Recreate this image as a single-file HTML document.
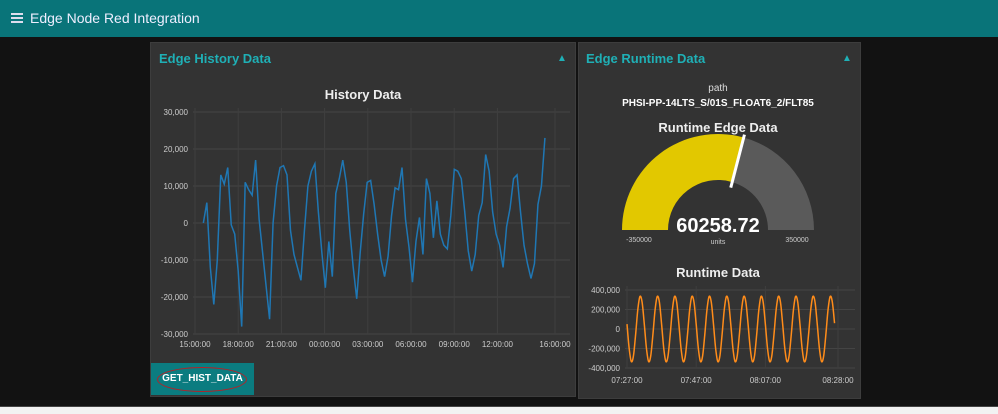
<!DOCTYPE html>
<html><head><meta charset="utf-8"><style>
body{margin:0;width:998px;height:414px;background:#121212;font-family:"Liberation Sans",sans-serif;position:relative;overflow:hidden}
.hdr{position:absolute;left:0;top:0;width:998px;height:37px;background:#097479;color:#eef;font-size:14px}
.panel{position:absolute;background:#333;border:1px solid #3d3d3d}
.ptitle{position:absolute;color:#1fb0b6;font-size:13px;font-weight:bold}
.caret{position:absolute;color:#1fb0b6;font-size:10px}
svg text{font-family:"Liberation Sans",sans-serif}
</style></head><body>
<div class="hdr">
 <div style="position:absolute;left:11px;top:13px;width:12px">
  <div style="height:2px;background:#dde;margin-bottom:2px"></div><div style="height:2px;background:#dde;margin-bottom:2px"></div><div style="height:2px;background:#dde"></div></div>
 <div style="position:absolute;left:30px;top:10px">Edge Node Red Integration</div>
</div>
<div class="panel" style="left:150px;top:42px;width:424px;height:353px"></div>
<div class="ptitle" style="left:159px;top:51px">Edge History Data</div>
<div class="caret" style="left:557px;top:53px">▲</div>
<div class="panel" style="left:578px;top:42px;width:281px;height:355px"></div>
<div class="ptitle" style="left:586px;top:51px">Edge Runtime Data</div>
<div class="caret" style="left:842px;top:53px">▲</div>
<div style="position:absolute;left:151px;top:363px;width:103px;height:32px;background:#0b7c80;color:#fff;font-size:10px;font-weight:bold;text-align:center;line-height:32px">GET_HIST_DATA</div>
<div style="position:absolute;left:157px;top:367px;width:88px;height:23px;border:1.5px solid #b0242a;border-radius:50%"></div>
<div style="position:absolute;left:0;top:406px;width:998px;height:1px;background:#444"></div>
<div style="position:absolute;left:0;top:407px;width:998px;height:7px;background:#f2f2f2"></div>
<svg id="svg" width="998" height="414" style="position:absolute;left:0;top:0"></svg>
<script>
const histValues=[0,5500,-12000,-22000,-10000,13000,10500,15000,-500,-3000,-13000,-28000,11000,9000,7500,17000,1000,-8000,-17000,-26000,0,10000,15000,15500,13000,-2000,-8500,-12000,-15500,-2000,10000,14000,16000,3000,-8000,-17500,-5000,-14500,8000,12000,17000,11000,-2000,-12000,-20500,-8000,2500,11000,11500,5000,-3000,-10000,-14500,-9000,2000,9500,9000,15000,1000,-6500,-16000,-5000,1500,-8500,12000,8000,-4000,6000,-3000,-6000,-7000,2000,14500,14000,12000,3000,-7500,-13000,-8500,2000,5500,18500,14000,3000,-3000,-6000,-12000,-1000,4000,12000,13000,3000,-6000,-11000,-15000,-11000,5000,10000,23000];
const histStartHour=0.58, histEndHour=24.3;
const histYTicks=[30000,20000,10000,0,-10000,-20000,-30000];
const histXTickHours=[0,3,6,9,12,15,18,21,25];
const histXTickLabels=["15:00:00","18:00:00","21:00:00","00:00:00","03:00:00","06:00:00","09:00:00","12:00:00","16:00:00"];
const rtValues=[50000,-199000,-334000,-273000,-53000,199000,334000,273000,50000,-199000,-334000,-273000,-53000,199000,334000,273000,50000,-199000,-334000,-273000,-53000,199000,334000,273000,50000,-199000,-334000,-273000,-53000,199000,334000,273000,50000,-199000,-334000,-273000,-53000,199000,334000,273000,50000,-199000,-334000,-273000,-53000,199000,334000,273000,50000,-199000,-334000,-273000,-53000,199000,334000,273000,50000,-199000,-334000,-273000,-53000,199000,334000,273000,50000,-199000,-334000,-273000,-53000,199000,334000,273000,50000,-199000,-334000,-273000,-53000,199000,334000,273000,50000,-199000,-334000,-273000,-53000,199000,334000,273000,50000,-199000,-334000,-273000,-53000,199000,334000,273000,60000];
const rtStepMin=0.625;
const rtYTicks=[400000,200000,0,-200000,-400000];
const rtXTickMin=[0,20,40,61];
const rtXTickLabels=["07:27:00","07:47:00","08:07:00","08:28:00"];
const gaugeValue=60258.72, gaugeMin=-350000, gaugeMax=350000;

const S=document.getElementById('svg');const NS="http://www.w3.org/2000/svg";
function mk(t,a,name,parent){const e=document.createElementNS(NS,t);for(const k in a)e.setAttribute(k,a[k]);


(parent||S).appendChild(e);return e;}
function txt(x,y,s,sz,col,anchor,bold,name){const e=mk('text',{x:x,y:y,'font-size':sz,fill:col,'text-anchor':anchor||'middle','font-weight':bold?'bold':'normal'},name);e.textContent=s;return e;}
function fmt(v){return v.toLocaleString('en-US');}
function smooth(pts){let d='M'+pts[0][0]+','+pts[0][1];for(let i=0;i<pts.length-1;i++){const p0=pts[Math.max(0,i-1)],p1=pts[i],p2=pts[i+1],p3=pts[Math.min(pts.length-1,i+2)];
d+=' C'+(p1[0]+(p2[0]-p0[0])/6)+','+(p1[1]+(p2[1]-p0[1])/6)+' '+(p2[0]-(p3[0]-p1[0])/6)+','+(p2[1]-(p3[1]-p1[1])/6)+' '+p2[0]+','+p2[1];}return d;}

const hx=h=>195+h*14.4, hy=v=>223-v*(111/30000);
txt(363,99,"History Data",13,"#eee","middle",true,"history-chart-title");
histYTicks.forEach(v=>{mk('line',{x1:193,x2:570,y1:hy(v),y2:hy(v),stroke:'#444','stroke-width':1},'history-y-gridline');
 txt(188,hy(v)+3,fmt(v),8,"#ccc","end",false,'history-y-tick-label');});
histXTickHours.forEach((h,i)=>{mk('line',{x1:hx(h),x2:hx(h),y1:108,y2:334,stroke:'#3f3f3f','stroke-width':1},'history-x-gridline');
 txt(hx(h),347,histXTickLabels[i],8,"#ccc","middle",false,'history-x-tick-label');});
const hstep=(histEndHour-histStartHour)/(histValues.length-1);
const hpts=histValues.map((v,i)=>[hx(histStartHour+i*hstep),hy(v)]);
mk('path',{d:'M'+hpts.map(p=>p.join(',')).join(' L'),fill:'none',stroke:'#1f77b4','stroke-width':1.5},'history-series-line');

const cx=718,cy=230,R=96,r=50;
function arc(a0,a1,col,name){const p=(a,rr)=>[cx-rr*Math.cos(a),cy-rr*Math.sin(a)];
const A=p(a0,R),B=p(a1,R),C=p(a1,r),D=p(a0,r);
mk('path',{d:`M${A} A${R},${R} 0 0 1 ${B} L${C} A${r},${r} 0 0 0 ${D} Z`,fill:col},name);}
const frac=(gaugeValue-gaugeMin)/(gaugeMax-gaugeMin), ang=frac*Math.PI;
arc(0,ang,'#e2c800','gauge-value-arc');arc(ang,Math.PI,'#5a5a5a','gauge-remaining-arc');
mk('line',{x1:cx-44*Math.cos(ang)+1,y1:cy-44*Math.sin(ang),x2:cx-99*Math.cos(ang),y2:cy-99*Math.sin(ang),stroke:'#fff','stroke-width':3},'gauge-needle');
txt(718,91,"path",10,"#ddd","middle",false,'path-label');
txt(718,106,"PHSI-PP-14LTS_S/01S_FLOAT6_2/FLT85",10,"#fff","middle",true,'path-value');
txt(718,132,"Runtime Edge Data",13,"#eee","middle",true,'gauge-title');
txt(718,232,gaugeValue.toFixed(2),20,"#fff","middle",true,'gauge-value-text');
txt(718,244,"units",7,"#ccc","middle",false,'gauge-units');
txt(639,242,String(gaugeMin),7,"#ccc","middle",false,'gauge-min-label');
txt(797,242,String(gaugeMax),7,"#ccc","middle",false,'gauge-max-label');

const rx=m=>627+m*(211/61), ry=v=>329-v*(39/400000);
txt(718,277,"Runtime Data",13,"#eee","middle",true,'runtime-chart-title');
rtYTicks.forEach(v=>{mk('line',{x1:625,x2:855,y1:ry(v),y2:ry(v),stroke:'#444','stroke-width':1},'runtime-y-gridline');
 txt(620,ry(v)+3,fmt(v),8,"#ccc","end",false,'runtime-y-tick-label');});
rtXTickMin.forEach((m,i)=>{mk('line',{x1:rx(m),x2:rx(m),y1:286,y2:368,stroke:'#3f3f3f','stroke-width':1},'runtime-x-gridline');
 txt(rx(m),383,rtXTickLabels[i],8,"#ccc","middle",false,'runtime-x-tick-label');});
const rpts=rtValues.map((v,i)=>[rx(Math.min(61,i*rtStepMin)),ry(v)]);
mk('path',{d:smooth(rpts),fill:'none',stroke:'#ff8c1a','stroke-width':1.5},'runtime-series-line');
</script>
</body></html>
